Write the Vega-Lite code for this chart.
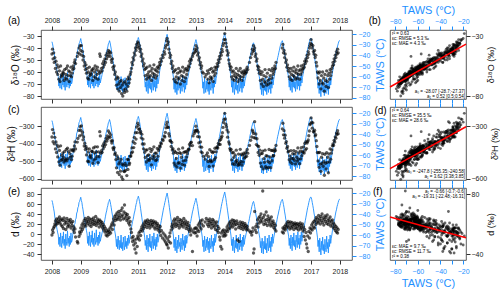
{
"$schema":"https://vega.github.io/schema/vega-lite/v6.json",
"padding":{"left":5,"top":3,"right":0,"bottom":0},
"config":{"font":"Liberation Sans","view":{"stroke":"#333","strokeWidth":0.8},
"axis":{"grid":false,"labelFontSize":7,"labelColor":"#222","tickColor":"#333","domain":false,"tickSize":4,"titleFontWeight":"normal","titleColor":"#111","titleFontSize":10}},
"datasets":{
"fit":[{"T":-84.5,"o":-72.5,"h":-541,"d":34},{"T":-17.5,"o":-36.8,"h":-304,"d":-7.5}],
"aws":[
{"t":2008.00,"T":-27,"o":-45,"h":-362,"d":-2},{"t":2008.02,"T":-29,"o":-41,"h":-320,"d":8},{"t":2008.04,"T":-32,"o":-49,"h":-389,"d":3},{"t":2008.06,"T":-35,"o":-44,"h":-340,"d":12},{"t":2008.08,"T":-38,"o":-52,"h":-401,"d":15},{"t":2008.10,"T":-43,"o":-48,"h":-364,"d":20},{"t":2008.12,"T":-46,"o":-57,"h":-430,"d":26},{"t":2008.14,"T":-49,"o":-51,"h":-390,"d":18},{"t":2008.16,"T":-52,"o":-60,"h":-450,"d":30},{"t":2008.18,"T":-55,"o":-54,"h":-408,"d":24},{"t":2008.20,"T":-58,"o":-62,"h":-475,"d":21},{"t":2008.22,"T":-60,"o":-56,"h":-418,"d":30},{"t":2008.24,"T":-69,"o":-66,"h":-503,"d":25},{"t":2008.26,"T":-62,"o":-59,"h":-438,"d":34},{"t":2008.28,"T":-71,"o":-68,"h":-522,"d":22},{"t":2008.30,"T":-58,"o":-55,"h":-412,"d":28},{"t":2008.32,"T":-67,"o":-64,"h":-494,"d":18},{"t":2008.34,"T":-72,"o":-62,"h":-466,"d":30},{"t":2008.36,"T":-61,"o":-63,"h":-489,"d":15},{"t":2008.38,"T":-68,"o":-60,"h":-453,"d":27},{"t":2008.40,"T":-57,"o":-61,"h":-477,"d":11},{"t":2008.42,"T":-70,"o":-67,"h":-504,"d":32},{"t":2008.44,"T":-64,"o":-58,"h":-444,"d":20},{"t":2008.46,"T":-73,"o":-65,"h":-494,"d":26},{"t":2008.48,"T":-59,"o":-62,"h":-487,"d":9},{"t":2008.50,"T":-66,"o":-57,"h":-433,"d":23},{"t":2008.52,"T":-70,"o":-66,"h":-497,"d":31},{"t":2008.54,"T":-56,"o":-55,"h":-426,"d":14},{"t":2008.56,"T":-68,"o":-63,"h":-485,"d":19},{"t":2008.58,"T":-63,"o":-59,"h":-445,"d":27},{"t":2008.60,"T":-71,"o":-68,"h":-528,"d":16},{"t":2008.62,"T":-61,"o":-60,"h":-456,"d":24},{"t":2008.64,"T":-69,"o":-63,"h":-475,"d":29},{"t":2008.66,"T":-58,"o":-56,"h":-436,"d":12},{"t":2008.68,"T":-67,"o":-64,"h":-490,"d":22},{"t":2008.70,"T":-65,"o":-61,"h":-471,"d":17},{"t":2008.72,"T":-60,"o":-58,"h":-439,"d":25},{"t":2008.74,"T":-57,"o":-55,"h":-432,"d":8},{"t":2008.76,"T":-55,"o":-57,"h":-442,"d":14},{"t":2008.78,"T":-50,"o":-52,"h":-413,"d":3},{"t":2008.80,"T":-49,"o":-50,"h":-390,"d":10},{"t":2008.82,"T":-45,"o":-53,"h":-430,"d":-6},{"t":2008.84,"T":-44},{"t":2008.86,"T":-39},{"t":2008.88,"T":-38,"o":-47,"h":-391,"d":-15},{"t":2008.90,"T":-34,"o":-44,"h":-370,"d":-18},{"t":2008.92,"T":-33},{"t":2008.94,"T":-29,"o":-40,"h":-325,"d":-5},{"t":2008.96,"T":-28,"o":-45,"h":-356,"d":4},{"t":2008.98,"T":-26,"o":-38,"h":-304,"d":0},
{"t":2009.00,"T":-24,"o":-42,"h":-324,"d":12},{"t":2009.02,"T":-27,"o":-38,"h":-299,"d":5},{"t":2009.04,"T":-29,"o":-46,"h":-350,"d":18},{"t":2009.06,"T":-33,"o":-43,"h":-335,"d":9},{"t":2009.08,"T":-36,"o":-50,"h":-378,"d":22},{"t":2009.10,"T":-40,"o":-47,"h":-362,"d":14},{"t":2009.12,"T":-44,"o":-55,"h":-413,"d":27},{"t":2009.14,"T":-46,"o":-52,"h":-397,"d":19},{"t":2009.16,"T":-50,"o":-58,"h":-433,"d":31},{"t":2009.18,"T":-53,"o":-54,"h":-416,"d":16},{"t":2009.20,"T":-56,"o":-61,"h":-464,"d":24},{"t":2009.22,"T":-59,"o":-57,"h":-428,"d":28},{"t":2009.24,"T":-68,"o":-65,"h":-499,"d":21},{"t":2009.26,"T":-61,"o":-60,"h":-447,"d":33},{"t":2009.28,"T":-70,"o":-66,"h":-502,"d":26},{"t":2009.30,"T":-57,"o":-56,"h":-430,"d":18},{"t":2009.32,"T":-66,"o":-63,"h":-474,"d":30},{"t":2009.34,"T":-71,"o":-61,"h":-465,"d":23},{"t":2009.36,"T":-60,"o":-62,"h":-481,"d":15},{"t":2009.38,"T":-67,"o":-59,"h":-443,"d":29},{"t":2009.40,"T":-56,"o":-58,"h":-444,"d":20},{"t":2009.42,"T":-69,"o":-67,"h":-511,"d":25},{"t":2009.44,"T":-63,"o":-57,"h":-424,"d":32},{"t":2009.46,"T":-71,"o":-64,"h":-493,"d":19},{"t":2009.48,"T":-58,"o":-60,"h":-453,"d":27},{"t":2009.50,"T":-65,"o":-55,"h":-418,"d":22},{"t":2009.52,"T":-69,"o":-65,"h":-485,"d":35},{"t":2009.54,"T":-55,"o":-58,"h":-447,"d":17},{"t":2009.56,"T":-67,"o":-62,"h":-472,"d":24},{"t":2009.58,"T":-62,"o":-56,"h":-418,"d":30},{"t":2009.60,"T":-70,"o":-66,"h":-507,"d":21},{"t":2009.62,"T":-60,"o":-59,"h":-446,"d":26},{"t":2009.64,"T":-68,"o":-61,"h":-474,"d":14},{"t":2009.66,"T":-57,"o":-45,"h":-332,"d":28},{"t":2009.68,"T":-66,"o":-47,"h":-356,"d":20},{"t":2009.70,"T":-63,"o":-60,"h":-455,"d":25},{"t":2009.72,"T":-61,"o":-57,"h":-440,"d":16},{"t":2009.74,"T":-58,"o":-59,"h":-449,"d":23},{"t":2009.76,"T":-56,"o":-53,"h":-412,"d":12},{"t":2009.78,"T":-53,"o":-56,"h":-429,"d":19},{"t":2009.80,"T":-50,"o":-51,"h":-400,"d":8},{"t":2009.82,"T":-48,"o":-54,"h":-417,"d":15},{"t":2009.84,"T":-45,"o":-49,"h":-388,"d":4},{"t":2009.86,"T":-42,"o":-52,"h":-405,"d":11},{"t":2009.88,"T":-39,"o":-46,"h":-370,"d":-2},{"t":2009.90,"T":-37,"o":-49,"h":-386,"d":6},{"t":2009.92,"T":-34,"o":-44,"h":-356,"d":-4},{"t":2009.94,"T":-32,"o":-47,"h":-373,"d":3},{"t":2009.96,"T":-29,"o":-42,"h":-328,"d":8},{"t":2009.98,"T":-28,"o":-45,"h":-361,"d":-1},
{"t":2010.00,"T":-26,"o":-43,"h":-339,"d":5},{"t":2010.02,"T":-28,"o":-47,"h":-364,"d":12},{"t":2010.04,"T":-31,"o":-44,"h":-350,"d":2},{"t":2010.06,"T":-34,"o":-50,"h":-384,"d":16},{"t":2010.08,"T":-38,"o":-52,"h":-396,"d":20},{"t":2010.10,"T":-41,"o":-49,"h":-383,"d":9},{"t":2010.12,"T":-45,"o":-56,"h":-424,"d":24},{"t":2010.14,"T":-49,"o":-58,"h":-434,"d":30},{"t":2010.16,"T":-52,"o":-55,"h":-422,"d":18},{"t":2010.18,"T":-56,"o":-62,"h":-461,"d":35},{"t":2010.20,"T":-59,"o":-60,"h":-453,"d":27},{"t":2010.22,"T":-63,"o":-66,"h":-490,"d":38},{"t":2010.24,"T":-71,"o":-71,"h":-537,"d":31},{"t":2010.26,"T":-64,"o":-64,"h":-470,"d":42},{"t":2010.28,"T":-73,"o":-74,"h":-563,"d":29},{"t":2010.30,"T":-61,"o":-65,"h":-484,"d":36},{"t":2010.32,"T":-70,"o":-70,"h":-515,"d":45},{"t":2010.34,"T":-74,"o":-76,"h":-575,"d":33},{"t":2010.36,"T":-65,"o":-68,"h":-504,"d":40},{"t":2010.38,"T":-72,"o":-73,"h":-556,"d":28},{"t":2010.40,"T":-60,"o":-67,"h":-489,"d":47},{"t":2010.42,"T":-73,"o":-78,"h":-589,"d":35},{"t":2010.44,"T":-67,"o":-71,"h":-516,"d":52},{"t":2010.46,"T":-75,"o":-80,"h":-602,"d":38},{"t":2010.48,"T":-62,"o":-69,"h":-522,"d":30},{"t":2010.50,"T":-70,"o":-75,"h":-556,"d":44},{"t":2010.52,"T":-74,"o":-77,"h":-558,"d":58},{"t":2010.54,"T":-61,"o":-68,"h":-512,"d":32},{"t":2010.56,"T":-71,"o":-74,"h":-551,"d":41},{"t":2010.58,"T":-66,"o":-70,"h":-524,"d":36},{"t":2010.60,"T":-73,"o":-76,"h":-581,"d":27},{"t":2010.62,"T":-63,"o":-66,"h":-489,"d":39},{"t":2010.64,"T":-70,"o":-72,"h":-546,"d":30},{"t":2010.66,"T":-60,"o":-64,"h":-490,"d":22},{"t":2010.68,"T":-68,"o":-69,"h":-519,"d":33},{"t":2010.70,"T":-64,"o":-66,"h":-510,"d":18},{"t":2010.72,"T":-61,"o":-62,"h":-471,"d":25},{"t":2010.74,"T":-56,"o":-60,"h":-470,"d":10},{"t":2010.76,"T":-53,"o":-57,"h":-453,"d":3},{"t":2010.78,"T":-50,"o":-52,"h":-424,"d":-8},{"t":2010.80,"T":-47,"o":-54,"h":-447,"d":-15},{"t":2010.82,"T":-45,"o":-48,"h":-389,"d":-5},{"t":2010.84,"T":-42,"o":-50,"h":-422,"d":-22},{"t":2010.86,"T":-39,"o":-44,"h":-364,"d":-12},{"t":2010.88,"T":-37,"o":-46,"h":-398,"d":-30},{"t":2010.90,"T":-34,"o":-40,"h":-338,"d":-18},{"t":2010.92,"T":-31,"o":-42,"h":-374,"d":-38},{"t":2010.94,"T":-29,"o":-37,"h":-306,"d":-10},{"t":2010.96,"T":-26,"o":-39,"h":-337,"d":-25},{"t":2010.98,"T":-25,"o":-35,"h":-284,"d":-4},
{"t":2011.00,"T":-23,"o":-36,"h":-296,"d":-8},{"t":2011.02,"T":-25,"o":-40,"h":-318,"d":2},{"t":2011.04,"T":-28,"o":-38,"h":-316,"d":-12},{"t":2011.06,"T":-31,"o":-43,"h":-339,"d":5},{"t":2011.08,"T":-35,"o":-41,"h":-331,"d":-3},{"t":2011.10,"T":-39,"o":-47,"h":-367,"d":9},{"t":2011.12,"T":-43,"o":-45,"h":-346,"d":14},{"t":2011.14,"T":-47,"o":-51,"h":-402,"d":6},{"t":2011.16,"T":-51,"o":-49,"h":-374,"d":18},{"t":2011.18,"T":-54,"o":-55,"h":-429,"d":11},{"t":2011.20,"T":-58,"o":-53,"h":-402,"d":22},{"t":2011.22,"T":-62,"o":-58,"h":-449,"d":15},{"t":2011.24,"T":-70,"o":-63,"h":-478,"d":26},{"t":2011.26,"T":-65,"o":-57,"h":-437,"d":19},{"t":2011.28,"T":-74,"o":-66,"h":-504,"d":24},{"t":2011.30,"T":-60,"o":-56,"h":-435,"d":13},{"t":2011.32,"T":-69,"o":-62,"h":-468,"d":28},{"t":2011.34,"T":-76,"o":-64,"h":-491,"d":21},{"t":2011.36,"T":-63,"o":-60,"h":-463,"d":17},{"t":2011.38,"T":-71,"o":-65,"h":-495,"d":25},{"t":2011.40,"T":-59,"o":-55,"h":-428,"d":12},{"t":2011.42,"T":-72,"o":-63,"h":-484,"d":20},{"t":2011.44,"T":-66,"o":-59,"h":-445,"d":27},{"t":2011.46,"T":-75,"o":-67,"h":-520,"d":16},{"t":2011.48,"T":-61,"o":-57,"h":-433,"d":23},{"t":2011.50,"T":-68,"o":-61,"h":-469,"d":19},{"t":2011.52,"T":-73,"o":-64,"h":-486,"d":26},{"t":2011.54,"T":-58,"o":-54,"h":-418,"d":14},{"t":2011.56,"T":-70,"o":-62,"h":-474,"d":22},{"t":2011.58,"T":-64,"o":-58,"h":-454,"d":10},{"t":2011.60,"T":-74,"o":-65,"h":-496,"d":24},{"t":2011.62,"T":-62,"o":-59,"h":-454,"d":18},{"t":2011.64,"T":-71,"o":-63,"h":-491,"d":13},{"t":2011.66,"T":-59,"o":-56,"h":-427,"d":21},{"t":2011.68,"T":-67,"o":-60,"h":-472,"d":8},{"t":2011.70,"T":-65,"o":-57,"h":-439,"d":17},{"t":2011.72,"T":-60,"o":-55,"h":-429,"d":11},{"t":2011.74,"T":-55,"o":-52,"h":-412,"d":4},{"t":2011.76,"T":-52,"o":-54,"h":-417,"d":15},{"t":2011.78,"T":-49,"o":-49,"h":-395,"d":-3},{"t":2011.80,"T":-46,"o":-51,"h":-401,"d":7},{"t":2011.82,"T":-43},{"t":2011.84,"T":-40,"o":-46,"h":-376,"d":-8},{"t":2011.86,"T":-37,"o":-48,"h":-382,"d":2},{"t":2011.88,"T":-34},{"t":2011.90,"T":-32,"o":-43,"h":-356,"d":-12},{"t":2011.92,"T":-29,"o":-45,"h":-362,"d":-2},{"t":2011.94,"T":-27,"o":-40,"h":-336,"d":-16},{"t":2011.96,"T":-24,"o":-38,"h":-310,"d":-6},{"t":2011.98,"T":-22,"o":-34,"h":-292,"d":-20},
{"t":2012.00,"T":-20,"o":-32,"h":-278,"d":-22},{"t":2012.02,"T":-23,"o":-37,"h":-306,"d":-10},{"t":2012.04,"T":-26,"o":-35,"h":-308,"d":-28},{"t":2012.06,"T":-30,"o":-41,"h":-343,"d":-15},{"t":2012.08,"T":-34,"o":-44,"h":-357,"d":-5},{"t":2012.10,"T":-38,"o":-48,"h":-382,"d":2},{"t":2012.12,"T":-42,"o":-46,"h":-386,"d":-18},{"t":2012.14,"T":-46,"o":-53,"h":-416,"d":8},{"t":2012.16,"T":-50,"o":-51,"h":-393,"d":15},{"t":2012.18,"T":-54,"o":-57,"h":-436,"d":20},{"t":2012.20,"T":-57,"o":-55,"h":-428,"d":12},{"t":2012.22,"T":-61,"o":-60,"h":-454,"d":26},{"t":2012.24,"T":-72,"o":-66,"h":-510,"d":18},{"t":2012.26,"T":-64,"o":-59,"h":-442,"d":30},{"t":2012.28,"T":-75,"o":-68,"h":-522,"d":22},{"t":2012.30,"T":-62,"o":-58,"h":-449,"d":15},{"t":2012.32,"T":-70,"o":-64,"h":-484,"d":28},{"t":2012.34,"T":-77,"o":-69,"h":-532,"d":20},{"t":2012.36,"T":-65,"o":-61,"h":-455,"d":33},{"t":2012.38,"T":-73,"o":-66,"h":-511,"d":17},{"t":2012.40,"T":-60,"o":-57,"h":-431,"d":25},{"t":2012.42,"T":-71,"o":-65,"h":-508,"d":12},{"t":2012.44,"T":-67,"o":-60,"h":-451,"d":29},{"t":2012.46,"T":-76,"o":-70,"h":-539,"d":21},{"t":2012.48,"T":-63,"o":-59,"h":-456,"d":16},{"t":2012.50,"T":-69,"o":-63,"h":-477,"d":27},{"t":2012.52,"T":-74,"o":-67,"h":-517,"d":19},{"t":2012.54,"T":-59,"o":-56,"h":-424,"d":24},{"t":2012.56,"T":-70,"o":-64,"h":-498,"d":14},{"t":2012.58,"T":-65,"o":-60,"h":-449,"d":31},{"t":2012.60,"T":-75,"o":-68,"h":-522,"d":22},{"t":2012.62,"T":-61,"o":-58,"h":-446,"d":18},{"t":2012.64,"T":-72,"o":-65,"h":-494,"d":26},{"t":2012.66,"T":-60,"o":-57,"h":-445,"d":11},{"t":2012.68,"T":-68,"o":-62,"h":-476,"d":20},{"t":2012.70,"T":-63,"o":-59,"h":-457,"d":15},{"t":2012.72,"T":-61,"o":-58,"h":-441,"d":23},{"t":2012.74,"T":-58,"o":-55,"h":-431,"d":9},{"t":2012.76,"T":-55,"o":-56,"h":-431,"d":17},{"t":2012.78,"T":-52,"o":-51,"h":-403,"d":5},{"t":2012.80,"T":-49,"o":-53,"h":-412,"d":12},{"t":2012.82,"T":-47,"o":-49,"h":-394,"d":-2},{"t":2012.84,"T":-44,"o":-50,"h":-392,"d":8},{"t":2012.86,"T":-41},{"t":2012.88,"T":-38,"o":-47,"h":-411,"d":-35},{"t":2012.90,"T":-36,"o":-45,"h":-356,"d":4},{"t":2012.92,"T":-33},{"t":2012.94,"T":-31,"o":-44,"h":-342,"d":10},{"t":2012.96,"T":-29,"o":-41,"h":-326,"d":2},{"t":2012.98,"T":-27,"o":-43,"h":-332,"d":12},
{"t":2013.00,"T":-25,"o":-38,"h":-301,"d":3},{"t":2013.02,"T":-27,"o":-42,"h":-324,"d":12},{"t":2013.04,"T":-30,"o":-40,"h":-324,"d":-4},{"t":2013.06,"T":-33,"o":-46,"h":-360,"d":8},{"t":2013.08,"T":-37,"o":-44,"h":-334,"d":18},{"t":2013.10,"T":-41,"o":-50,"h":-395,"d":5},{"t":2013.12,"T":-44,"o":-48,"h":-362,"d":22},{"t":2013.14,"T":-48,"o":-54,"h":-418,"d":14},{"t":2013.16,"T":-51,"o":-52,"h":-390,"d":26},{"t":2013.18,"T":-55,"o":-57,"h":-446,"d":10},{"t":2013.20,"T":-58,"o":-55,"h":-420,"d":20},{"t":2013.22,"T":-62,"o":-60,"h":-452,"d":28},{"t":2013.24,"T":-71},{"t":2013.26,"T":-65,"o":-61,"h":-472,"d":16},{"t":2013.28,"T":-76},{"t":2013.30,"T":-61},{"t":2013.32,"T":-70,"o":-64,"h":-488,"d":24},{"t":2013.34,"T":-75},{"t":2013.36,"T":-64,"o":-62,"h":-465,"d":31},{"t":2013.38,"T":-72},{"t":2013.40,"T":-62,"o":-59,"h":-453,"d":19},{"t":2013.42,"T":-74,"o":-66,"h":-501,"d":27},{"t":2013.44,"T":-66,"o":-61,"h":-473,"d":15},{"t":2013.46,"T":-77,"o":-69,"h":-529,"d":23},{"t":2013.48,"T":-63,"o":-58,"h":-434,"d":30},{"t":2013.50,"T":-70,"o":-64,"h":-494,"d":18},{"t":2013.52,"T":-73,"o":-66,"h":-503,"d":25},{"t":2013.54,"T":-60,"o":-57,"h":-444,"d":12},{"t":2013.56,"T":-71,"o":-65,"h":-499,"d":21},{"t":2013.58,"T":-66,"o":-60,"h":-451,"d":29},{"t":2013.60,"T":-76,"o":-68,"h":-527,"d":17},{"t":2013.62,"T":-63,"o":-59,"h":-446,"d":26},{"t":2013.64,"T":-70,"o":-63,"h":-490,"d":14},{"t":2013.66,"T":-59,"o":-56,"h":-426,"d":22},{"t":2013.68,"T":-67,"o":-61,"h":-479,"d":9},{"t":2013.70,"T":-62,"o":-58,"h":-446,"d":18},{"t":2013.72,"T":-59,"o":-56,"h":-424,"d":24},{"t":2013.74,"T":-55,"o":-53,"h":-417,"d":7},{"t":2013.76,"T":-51,"o":-55,"h":-425,"d":15},{"t":2013.78,"T":-48,"o":-50,"h":-397,"d":3},{"t":2013.80,"T":-45,"o":-52,"h":-405,"d":11},{"t":2013.82,"T":-42,"o":-47,"h":-382,"d":-6},{"t":2013.84,"T":-39,"o":-49,"h":-404,"d":-12},{"t":2013.86,"T":-36,"o":-44,"h":-377,"d":-25},{"t":2013.88,"T":-33,"o":-46,"h":-366,"d":2},{"t":2013.90,"T":-30,"o":-41,"h":-358,"d":-30},{"t":2013.92,"T":-28,"o":-43,"h":-338,"d":6},{"t":2013.94,"T":-25,"o":-38,"h":-308,"d":-4},{"t":2013.96,"T":-23,"o":-36,"h":-280,"d":8},{"t":2013.98,"T":-21,"o":-33,"h":-263,"d":1},
{"t":2014.00,"T":-19,"o":-28,"h":-228,"d":-4},{"t":2014.02,"T":-22,"o":-33,"h":-260,"d":4},{"t":2014.04,"T":-25,"o":-36,"h":-290,"d":-2},{"t":2014.06,"T":-29,"o":-39,"h":-304,"d":8},{"t":2014.08,"T":-33,"o":-42,"h":-322,"d":14},{"t":2014.10,"T":-37,"o":-46,"h":-363,"d":5},{"t":2014.12,"T":-41,"o":-44,"h":-334,"d":18},{"t":2014.14,"T":-45,"o":-50,"h":-390,"d":10},{"t":2014.16,"T":-49,"o":-53,"h":-402,"d":22},{"t":2014.18,"T":-53,"o":-55,"h":-428,"d":12},{"t":2014.20,"T":-57,"o":-58,"h":-439,"d":25},{"t":2014.22,"T":-61,"o":-56,"h":-432,"d":16},{"t":2014.24,"T":-70,"o":-64,"h":-492,"d":20},{"t":2014.26,"T":-64,"o":-60,"h":-452,"d":28},{"t":2014.28,"T":-75,"o":-66,"h":-514,"d":14},{"t":2014.30,"T":-62,"o":-59,"h":-450,"d":22},{"t":2014.32,"T":-71,"o":-63,"h":-477,"d":27},{"t":2014.34,"T":-77,"o":-67,"h":-518,"d":18},{"t":2014.36,"T":-65,"o":-61,"h":-464,"d":24},{"t":2014.38,"T":-72,"o":-64,"h":-502,"d":10},{"t":2014.40,"T":-60,"o":-57,"h":-437,"d":19},{"t":2014.42,"T":-73,"o":-65,"h":-494,"d":26},{"t":2014.44,"T":-68,"o":-62,"h":-508,"d":-12},{"t":2014.46,"T":-76,"o":-68,"h":-523,"d":21},{"t":2014.48,"T":-62,"o":-59,"h":-459,"d":13},{"t":2014.50,"T":-70,"o":-63,"h":-519,"d":-15},{"t":2014.52,"T":-74,"o":-66,"h":-511,"d":17},{"t":2014.54,"T":-59,"o":-57,"h":-432,"d":24},{"t":2014.56,"T":-71,"o":-64,"h":-501,"d":11},{"t":2014.58,"T":-65,"o":-60,"h":-460,"d":20},{"t":2014.60,"T":-75,"o":-67,"h":-521,"d":15},{"t":2014.62,"T":-62,"o":-61,"h":-465,"d":23},{"t":2014.64,"T":-71,"o":-64,"h":-503,"d":9},{"t":2014.66,"T":-60,"o":-59,"h":-454,"d":18},{"t":2014.68,"T":-69,"o":-62,"h":-482,"d":14},{"t":2014.70,"T":-64,"o":-60,"h":-459,"d":21},{"t":2014.72,"T":-62,"o":-61,"h":-476,"d":12},{"t":2014.74,"T":-59,"o":-58,"h":-447,"d":17},{"t":2014.76,"T":-57,"o":-60,"h":-472,"d":8},{"t":2014.78,"T":-54,"o":-56,"h":-433,"d":15},{"t":2014.80,"T":-52,"o":-58,"h":-454,"d":10},{"t":2014.82,"T":-49},{"t":2014.84,"T":-47},{"t":2014.86,"T":-44,"o":-52,"h":-410,"d":6},{"t":2014.88,"T":-41},{"t":2014.90,"T":-39,"o":-48,"h":-381,"d":3},{"t":2014.92,"T":-36},{"t":2014.94,"T":-33,"o":-45,"h":-362,"d":-2},{"t":2014.96,"T":-31,"o":-41,"h":-323,"d":5},{"t":2014.98,"T":-29,"o":-43,"h":-332,"d":12},
{"t":2015.00,"T":-28,"o":-38,"h":-342,"d":-38},{"t":2015.02,"T":-30,"o":-42,"h":-366,"d":-30},{"t":2015.04,"T":-33,"o":-40,"h":-275,"d":45},{"t":2015.06,"T":-36,"o":-47,"h":-368,"d":8},{"t":2015.08,"T":-40,"o":-45,"h":-345,"d":15},{"t":2015.10,"T":-43,"o":-51,"h":-405,"d":3},{"t":2015.12,"T":-47,"o":-49,"h":-372,"d":20},{"t":2015.14,"T":-50,"o":-55,"h":-412,"d":28},{"t":2015.16,"T":-54,"o":-58,"h":-450,"d":14},{"t":2015.18,"T":-57,"o":-56,"h":-416,"d":32},{"t":2015.20,"T":-60,"o":-61,"h":-466,"d":22},{"t":2015.22,"T":-63,"o":-59,"h":-437,"d":35},{"t":2015.24,"T":-72,"o":-67,"h":-510,"d":26},{"t":2015.26,"T":-66,"o":-62,"h":-456,"d":40},{"t":2015.28,"T":-77,"o":-70,"h":-530,"d":30},{"t":2015.30,"T":-63,"o":-60,"h":-456,"d":24},{"t":2015.32,"T":-71,"o":-66,"h":-442,"d":86},{"t":2015.34,"T":-78,"o":-72,"h":-543,"d":33},{"t":2015.36,"T":-66,"o":-63,"h":-485,"d":19},{"t":2015.38,"T":-73,"o":-68,"h":-506,"d":38},{"t":2015.40,"T":-61,"o":-58,"h":-437,"d":27},{"t":2015.42,"T":-74,"o":-69,"h":-531,"d":21},{"t":2015.44,"T":-68,"o":-64,"h":-468,"d":44},{"t":2015.46,"T":-77,"o":-71,"h":-539,"d":29},{"t":2015.48,"T":-63,"o":-61,"h":-471,"d":17},{"t":2015.50,"T":-71,"o":-67,"h":-500,"d":36},{"t":2015.52,"T":-75,"o":-70,"h":-535,"d":25},{"t":2015.54,"T":-60,"o":-58,"h":-433,"d":31},{"t":2015.56,"T":-72,"o":-66,"h":-508,"d":20},{"t":2015.58,"T":-66,"o":-63,"h":-476,"d":28},{"t":2015.60,"T":-76,"o":-69,"h":-536,"d":16},{"t":2015.62,"T":-62,"o":-59,"h":-438,"d":34},{"t":2015.64,"T":-71,"o":-65,"h":-497,"d":23},{"t":2015.66,"T":-59,"o":-57,"h":-438,"d":18},{"t":2015.68,"T":-68,"o":-62,"h":-470,"d":26},{"t":2015.70,"T":-63,"o":-60,"h":-467,"d":13},{"t":2015.72,"T":-60,"o":-58,"h":-443,"d":21},{"t":2015.74,"T":-57,"o":-55,"h":-430,"d":10},{"t":2015.76,"T":-54,"o":-57,"h":-439,"d":17},{"t":2015.78,"T":-51,"o":-52,"h":-410,"d":6},{"t":2015.80,"T":-48},{"t":2015.82,"T":-45},{"t":2015.84,"T":-42},{"t":2015.86,"T":-40},{"t":2015.88,"T":-37},{"t":2015.90,"T":-35},{"t":2015.92,"T":-32},{"t":2015.94,"T":-30},{"t":2015.96,"T":-28},{"t":2015.98,"T":-27},
{"t":2016.00,"T":-26,"o":-40,"h":-316,"d":4},{"t":2016.02,"T":-28,"o":-37,"h":-284,"d":12},{"t":2016.04,"T":-31,"o":-44,"h":-350,"d":2},{"t":2016.06,"T":-34,"o":-42,"h":-326,"d":10},{"t":2016.08,"T":-38,"o":-48,"h":-369,"d":15},{"t":2016.10,"T":-41,"o":-45,"h":-352,"d":8},{"t":2016.12,"T":-45,"o":-52,"h":-398,"d":18},{"t":2016.14,"T":-48,"o":-50,"h":-388,"d":12},{"t":2016.16,"T":-52,"o":-56,"h":-426,"d":22},{"t":2016.18,"T":-55,"o":-54,"h":-416,"d":16},{"t":2016.20,"T":-58,"o":-59,"h":-447,"d":25},{"t":2016.22,"T":-61,"o":-57,"h":-442,"d":14},{"t":2016.24,"T":-70,"o":-64,"h":-491,"d":21},{"t":2016.26,"T":-63,"o":-60,"h":-470,"d":10},{"t":2016.28,"T":-73,"o":-66,"h":-504,"d":24},{"t":2016.30,"T":-60,"o":-57,"h":-439,"d":17},{"t":2016.32,"T":-68,"o":-62,"h":-484,"d":12},{"t":2016.34,"T":-75,"o":-67,"h":-513,"d":23},{"t":2016.36,"T":-62,"o":-59,"h":-457,"d":15},{"t":2016.38,"T":-70,"o":-63,"h":-484,"d":20},{"t":2016.40,"T":-58,"o":-56,"h":-439,"d":9},{"t":2016.42,"T":-71,"o":-64,"h":-494,"d":18},{"t":2016.44,"T":-65,"o":-60,"h":-458,"d":22},{"t":2016.46,"T":-74,"o":-66,"h":-515,"d":13},{"t":2016.48,"T":-60,"o":-58,"h":-445,"d":19},{"t":2016.50,"T":-67,"o":-61,"h":-477,"d":11},{"t":2016.52,"T":-72,"o":-65,"h":-499,"d":21},{"t":2016.54,"T":-57,"o":-55,"h":-424,"d":16},{"t":2016.56,"T":-69,"o":-62,"h":-488,"d":8},{"t":2016.58,"T":-63,"o":-59,"h":-453,"d":19},{"t":2016.60,"T":-73,"o":-66,"h":-514,"d":14},{"t":2016.62,"T":-60,"o":-58,"h":-442,"d":22},{"t":2016.64,"T":-69,"o":-62,"h":-486,"d":10},{"t":2016.66,"T":-57,"o":-55,"h":-423,"d":17},{"t":2016.68,"T":-66,"o":-60,"h":-468,"d":12},{"t":2016.70,"T":-61,"o":-58,"h":-444,"d":20},{"t":2016.72,"T":-58,"o":-57,"h":-450,"d":6},{"t":2016.74,"T":-55,"o":-54,"h":-418,"d":14},{"t":2016.76,"T":-52,"o":-56,"h":-453,"d":-5},{"t":2016.78,"T":-49,"o":-51,"h":-399,"d":9},{"t":2016.80,"T":-46,"o":-53,"h":-436,"d":-12},{"t":2016.82,"T":-43,"o":-49,"h":-389,"d":3},{"t":2016.84,"T":-40,"o":-51,"h":-428,"d":-20},{"t":2016.86,"T":-37,"o":-46,"h":-396,"d":-28},{"t":2016.88,"T":-34,"o":-48,"h":-388,"d":-4},{"t":2016.90,"T":-32,"o":-43,"h":-379,"d":-35},{"t":2016.92,"T":-29,"o":-45,"h":-355,"d":5},{"t":2016.94,"T":-27,"o":-40,"h":-328,"d":-8},{"t":2016.96,"T":-25,"o":-38,"h":-292,"d":12},{"t":2016.98,"T":-24,"o":-36,"h":-286,"d":2},
{"t":2017.00,"T":-24,"o":-33,"h":-254,"d":10},{"t":2017.02,"T":-26,"o":-37,"h":-278,"d":18},{"t":2017.04,"T":-29,"o":-40,"h":-312,"d":8},{"t":2017.06,"T":-32,"o":-38,"h":-282,"d":22},{"t":2017.08,"T":-35,"o":-43,"h":-330,"d":14},{"t":2017.10,"T":-39,"o":-45,"h":-335,"d":25},{"t":2017.12,"T":-42,"o":-42,"h":-324,"d":12},{"t":2017.14,"T":-46,"o":-48,"h":-356,"d":28},{"t":2017.16,"T":-50,"o":-46,"h":-349,"d":19},{"t":2017.18,"T":-54,"o":-52,"h":-383,"d":33},{"t":2017.20,"T":-58,"o":-55,"h":-416,"d":24},{"t":2017.22,"T":-62,"o":-60,"h":-450,"d":30},{"t":2017.24,"T":-71,"o":-65,"h":-498,"d":22},{"t":2017.26,"T":-65,"o":-61,"h":-451,"d":37},{"t":2017.28,"T":-76,"o":-70,"h":-534,"d":26},{"t":2017.30,"T":-63,"o":-60,"h":-449,"d":31},{"t":2017.32,"T":-72,"o":-67,"h":-516,"d":20},{"t":2017.34,"T":-79,"o":-74,"h":-557,"d":35},{"t":2017.36,"T":-66,"o":-63,"h":-477,"d":27},{"t":2017.38,"T":-74,"o":-69,"h":-512,"d":40},{"t":2017.40,"T":-62,"o":-60,"h":-457,"d":23},{"t":2017.42,"T":-75,"o":-70,"h":-528,"d":32},{"t":2017.44,"T":-69,"o":-65,"h":-502,"d":18},{"t":2017.46,"T":-78,"o":-76,"h":-579,"d":29},{"t":2017.48,"T":-64,"o":-62,"h":-460,"d":36},{"t":2017.50,"T":-72,"o":-67,"h":-511,"d":25},{"t":2017.52,"T":-76,"o":-72,"h":-543,"d":33},{"t":2017.54,"T":-61,"o":-59,"h":-451,"d":21},{"t":2017.56,"T":-73,"o":-68,"h":-506,"d":38},{"t":2017.58,"T":-67,"o":-63,"h":-477,"d":27},{"t":2017.60,"T":-77,"o":-73,"h":-565,"d":19},{"t":2017.62,"T":-64,"o":-61,"h":-458,"d":30},{"t":2017.64,"T":-71,"o":-66,"h":-504,"d":24},{"t":2017.66,"T":-60,"o":-58,"h":-430,"d":34},{"t":2017.68,"T":-68,"o":-63,"h":-488,"d":16},{"t":2017.70,"T":-63,"o":-60,"h":-454,"d":26},{"t":2017.72,"T":-60,"o":-57,"h":-436,"d":20},{"t":2017.74,"T":-56,"o":-55,"h":-412,"d":28},{"t":2017.76,"T":-53,"o":-52,"h":-402,"d":14},{"t":2017.78,"T":-50,"o":-54,"h":-410,"d":22},{"t":2017.80,"T":-47,"o":-49,"h":-381,"d":11},{"t":2017.82,"T":-44,"o":-51,"h":-390,"d":18},{"t":2017.84,"T":-41,"o":-46,"h":-361,"d":7},{"t":2017.86,"T":-38,"o":-48,"h":-369,"d":15},{"t":2017.88,"T":-36,"o":-43,"h":-340,"d":4},{"t":2017.90,"T":-33,"o":-45,"h":-348,"d":12},{"t":2017.92,"T":-31,"o":-41,"h":-326,"d":2},{"t":2017.94,"T":-29,"o":-44,"h":-343,"d":9},{"t":2017.96,"T":-27},{"t":2017.98,"T":-26},{"t":2018.00,"T":-26}
]},
"concat":[
{"width":311,"height":69,"resolve":{"scale":{"y":"independent"},"axis":{"x":"independent","y":"independent"}},
"layer":[
{"data":{"name":"aws"},"mark":{"type":"line","color":"#1E90FF","strokeWidth":0.9},
"encoding":{"x":{"field":"t","type":"quantitative","scale":{"domain":[2007.62,2018.42],"nice":false,"zero":false},"axis":{"orient":"top","values":[2008,2009,2010,2011,2012,2013,2014,2015,2016,2017,2018],"format":"d","title":null,"labelPadding":3}},
"y":{"field":"T","type":"quantitative","scale":{"domain":[-81.2,-15.9],"nice":false,"zero":false},"axis":{"orient":"right","values":[-80,-70,-60,-50,-40,-30,-20],"title":"TAWS (°C)","titleAngle":270,"titleBaseline":"top","titleColor":"#1E90FF","labelColor":"#1E90FF","tickColor":"#1E90FF","labelPadding":2,"titlePadding":5,"titleFontSize":11}}}},
{"data":{"name":"aws"},"transform":[{"filter":{"field":"o","valid":true}}],"mark":{"type":"point","filled":true,"color":"#000","opacity":0.65,"size":11},
"encoding":{"x":{"field":"t","type":"quantitative","scale":{"domain":[2007.62,2018.42],"nice":false,"zero":false},"axis":{"orient":"bottom","values":[2008,2009,2010,2011,2012,2013,2014,2015,2016,2017,2018],"labels":false,"title":null}},
"y":{"field":"o","type":"quantitative","scale":{"domain":[-82.5,-25],"nice":false,"zero":false},"axis":{"orient":"left","values":[-80,-70,-60,-50,-40,-30],"title":"δ¹⁸O (‰)","labelPadding":3,"titlePadding":2}}}},
{"data":{"values":[{}]},"mark":{"type":"text","align":"left","baseline":"middle","fontSize":10,"text":"(a)"},
"encoding":{"x":{"datum":2006.47,"type":"quantitative","scale":{"domain":[2007.62,2018.42],"nice":false,"zero":false},"axis":null},"y":{"datum":-17.5,"type":"quantitative","scale":{"domain":[-82.5,-25],"nice":false,"zero":false},"axis":null}}},
{"data":{"values":[{}]},"mark":{"type":"text","align":"left","baseline":"middle","fontSize":10,"text":"(b)"},
"encoding":{"x":{"datum":2019.0,"type":"quantitative","scale":{"domain":[2007.62,2018.42],"nice":false,"zero":false},"axis":null},"y":{"datum":-17.5,"type":"quantitative","scale":{"domain":[-82.5,-25],"nice":false,"zero":false},"axis":null}}}
]},
{"width":76,"height":69,"resolve":{"axis":{"x":"independent"}},
"layer":[
{"data":{"name":"aws"},"transform":[{"filter":{"field":"o","valid":true}}],"mark":{"type":"point","filled":true,"color":"#000","opacity":0.6,"size":8},
"encoding":{"x":{"field":"T","type":"quantitative","scale":{"domain":[-84.5,-17.5],"nice":false,"zero":false},"axis":{"orient":"top","values":[-80,-70,-60,-50,-40,-30,-20],"labelExpr":"datum.value % 20 == 0 ? datum.label : ''","title":"TAWS (°C)","titleColor":"#1E90FF","labelColor":"#1E90FF","tickColor":"#1E90FF","labelPadding":2,"titlePadding":2,"titleFontSize":11}},
"y":{"field":"o","type":"quantitative","scale":{"domain":[-82.5,-25],"nice":false,"zero":false},"axis":{"orient":"right","values":[-80,-70,-60,-50,-40,-30],"title":"δ¹⁸O (‰)","titleAngle":270,"titleBaseline":"top","titleFontSize":9,"labelPadding":1,"titlePadding":4}}}},
{"data":{"name":"fit"},"mark":{"type":"line","color":"#FF0000","strokeWidth":1.5},
"encoding":{"x":{"field":"T","type":"quantitative","scale":{"domain":[-84.5,-17.5],"nice":false,"zero":false},"axis":{"orient":"bottom","values":[-80,-70,-60,-50,-40,-30,-20],"labels":false,"title":null,"tickColor":"#1E90FF"}},
"y":{"field":"o","type":"quantitative","scale":{"domain":[-82.5,-25],"nice":false,"zero":false}}}},
{"data":{"values":[{}]},"mark":{"type":"text","align":"left","baseline":"top","fontSize":4.5,"lineHeight":5,"text":["r² = 0.63","εc: RMSE = 5.3 ‰","εc: MAE = 4.3 ‰"]},
"encoding":{"x":{"datum":-82.7,"type":"quantitative","axis":null},"y":{"datum":-25.8,"type":"quantitative"}}},
{"data":{"values":[{}]},"mark":{"type":"text","align":"right","baseline":"top","fontSize":4.5,"lineHeight":5,"text":["a₀ = -28.07 [-28.7;-27.37]","a₁ = 0.52 [0.5;0.54]"]},
"encoding":{"x":{"datum":-18.4,"type":"quantitative","axis":null},"y":{"datum":-74.2,"type":"quantitative"}}}
]},
{"width":311,"height":73,"resolve":{"scale":{"y":"independent"},"axis":{"x":"independent","y":"independent"}},
"layer":[
{"data":{"name":"aws"},"mark":{"type":"line","color":"#1E90FF","strokeWidth":0.9},
"encoding":{"x":{"field":"t","type":"quantitative","scale":{"domain":[2007.62,2018.42],"nice":false,"zero":false},"axis":{"orient":"bottom","values":[2008,2009,2010,2011,2012,2013,2014,2015,2016,2017,2018],"labels":false,"title":null}},
"y":{"field":"T","type":"quantitative","scale":{"domain":[-83.8,-14],"nice":false,"zero":false},"axis":{"orient":"right","values":[-80,-70,-60,-50,-40,-30,-20],"title":"TAWS (°C)","titleAngle":270,"titleBaseline":"top","titleColor":"#1E90FF","labelColor":"#1E90FF","tickColor":"#1E90FF","labelPadding":2,"titlePadding":5,"titleFontSize":11}}}},
{"data":{"name":"aws"},"transform":[{"filter":{"field":"h","valid":true}}],"mark":{"type":"point","filled":true,"color":"#000","opacity":0.65,"size":11},
"encoding":{"x":{"field":"t","type":"quantitative","scale":{"domain":[2007.62,2018.42],"nice":false,"zero":false},"axis":null},
"y":{"field":"h","type":"quantitative","scale":{"domain":[-606,-192],"nice":false,"zero":false},"axis":{"orient":"left","values":[-600,-500,-400,-300],"title":"δ²H (‰)","labelPadding":3,"titlePadding":2}}}},
{"data":{"values":[{}]},"mark":{"type":"text","align":"left","baseline":"middle","fontSize":10,"text":"(c)"},
"encoding":{"x":{"datum":2006.47,"type":"quantitative","scale":{"domain":[2007.62,2018.42],"nice":false,"zero":false},"axis":null},"y":{"datum":-209,"type":"quantitative","scale":{"domain":[-606,-192],"nice":false,"zero":false},"axis":null}}},
{"data":{"values":[{}]},"mark":{"type":"text","align":"left","baseline":"middle","fontSize":10,"text":"(d)"},
"encoding":{"x":{"datum":2019.2,"type":"quantitative","scale":{"domain":[2007.62,2018.42],"nice":false,"zero":false},"axis":null},"y":{"datum":-214.7,"type":"quantitative","scale":{"domain":[-606,-192],"nice":false,"zero":false},"axis":null}}}
]},
{"width":76,"height":73,"resolve":{"axis":{"x":"independent"}},
"layer":[
{"data":{"name":"aws"},"transform":[{"filter":{"field":"h","valid":true}}],"mark":{"type":"point","filled":true,"color":"#000","opacity":0.6,"size":8},
"encoding":{"x":{"field":"T","type":"quantitative","scale":{"domain":[-84.5,-17.5],"nice":false,"zero":false},"axis":{"orient":"top","values":[-80,-70,-60,-50,-40,-30,-20],"labels":false,"title":null,"tickColor":"#1E90FF"}},
"y":{"field":"h","type":"quantitative","scale":{"domain":[-606,-192],"nice":false,"zero":false},"axis":{"orient":"right","values":[-600,-500,-400,-300],"title":"δ²H (‰)","titleAngle":270,"titleBaseline":"top","titleFontSize":9,"labelPadding":1,"titlePadding":4}}}},
{"data":{"name":"fit"},"mark":{"type":"line","color":"#FF0000","strokeWidth":1.5},
"encoding":{"x":{"field":"T","type":"quantitative","scale":{"domain":[-84.5,-17.5],"nice":false,"zero":false},"axis":{"orient":"bottom","values":[-80,-70,-60,-50,-40,-30,-20],"labels":false,"title":null,"tickColor":"#1E90FF"}},
"y":{"field":"h","type":"quantitative","scale":{"domain":[-606,-192],"nice":false,"zero":false}}}},
{"data":{"values":[{}]},"mark":{"type":"text","align":"left","baseline":"top","fontSize":4.5,"lineHeight":5,"text":["r² = 0.64","εc: RMSE = 35.5 ‰","εc: MAE = 28.6 ‰"]},
"encoding":{"x":{"datum":-82.7,"type":"quantitative","axis":null},"y":{"datum":-197.7,"type":"quantitative"}}},
{"data":{"values":[{}]},"mark":{"type":"text","align":"right","baseline":"top","fontSize":4.5,"lineHeight":5,"text":["a₀ = -247.8 [-255.35;-240.58]","a₁ = 3.62 [3.38;3.85]"]},
"encoding":{"x":{"datum":-18.4,"type":"quantitative","axis":null},"y":{"datum":-543.7,"type":"quantitative"}}}
]},
{"width":311,"height":72,"resolve":{"scale":{"y":"independent"},"axis":{"x":"independent","y":"independent"}},
"layer":[
{"data":{"name":"aws"},"mark":{"type":"line","color":"#1E90FF","strokeWidth":0.9},
"encoding":{"x":{"field":"t","type":"quantitative","scale":{"domain":[2007.62,2018.42],"nice":false,"zero":false},"axis":{"orient":"bottom","values":[2008,2009,2010,2011,2012,2013,2014,2015,2016,2017,2018],"format":"d","title":null,"labelPadding":3}},
"y":{"field":"T","type":"quantitative","scale":{"domain":[-83.8,-15.2],"nice":false,"zero":false},"axis":{"orient":"right","values":[-80,-70,-60,-50,-40,-30,-20],"title":"TAWS (°C)","titleAngle":270,"titleBaseline":"top","titleColor":"#1E90FF","labelColor":"#1E90FF","tickColor":"#1E90FF","labelPadding":2,"titlePadding":5,"titleFontSize":11}}}},
{"data":{"name":"aws"},"transform":[{"filter":{"field":"d","valid":true}}],"mark":{"type":"point","filled":true,"color":"#000","opacity":0.65,"size":11},
"encoding":{"x":{"field":"t","type":"quantitative","scale":{"domain":[2007.62,2018.42],"nice":false,"zero":false},"axis":null},
"y":{"field":"d","type":"quantitative","scale":{"domain":[-52,92],"nice":false,"zero":false},"axis":{"orient":"left","values":[-40,-20,0,20,40,60,80],"title":"d (‰)","labelPadding":3,"titlePadding":2}}}},
{"data":{"values":[{}]},"mark":{"type":"text","align":"left","baseline":"middle","fontSize":10,"text":"(e)"},
"encoding":{"x":{"datum":2006.47,"type":"quantitative","scale":{"domain":[2007.62,2018.42],"nice":false,"zero":false},"axis":null},"y":{"datum":84,"type":"quantitative","scale":{"domain":[-52,92],"nice":false,"zero":false},"axis":null}}},
{"data":{"values":[{}]},"mark":{"type":"text","align":"left","baseline":"middle","fontSize":10,"text":"(f)"},
"encoding":{"x":{"datum":2019.15,"type":"quantitative","scale":{"domain":[2007.62,2018.42],"nice":false,"zero":false},"axis":null},"y":{"datum":84,"type":"quantitative","scale":{"domain":[-52,92],"nice":false,"zero":false},"axis":null}}}
]},
{"width":76,"height":72,"resolve":{"axis":{"x":"independent"}},
"layer":[
{"data":{"name":"aws"},"transform":[{"filter":{"field":"d","valid":true}}],"mark":{"type":"point","filled":true,"color":"#000","opacity":0.6,"size":8},
"encoding":{"x":{"field":"T","type":"quantitative","scale":{"domain":[-84.5,-17.5],"nice":false,"zero":false},"axis":{"orient":"top","values":[-80,-70,-60,-50,-40,-30,-20],"labels":false,"title":null,"tickColor":"#1E90FF"}},
"y":{"field":"d","type":"quantitative","scale":{"domain":[-52,92],"nice":false,"zero":false},"axis":{"orient":"right","values":[-40,-20,0,20,40,60,80],"title":"d (‰)","titleAngle":270,"titleBaseline":"top","titleFontSize":9,"labelPadding":1,"titlePadding":4}}}},
{"data":{"name":"fit"},"mark":{"type":"line","color":"#FF0000","strokeWidth":1.5},
"encoding":{"x":{"field":"T","type":"quantitative","scale":{"domain":[-84.5,-17.5],"nice":false,"zero":false},"axis":{"orient":"bottom","values":[-80,-70,-60,-50,-40,-30,-20],"labelExpr":"datum.value % 20 == 0 ? datum.label : ''","title":"TAWS (°C)","titleColor":"#1E90FF","labelColor":"#1E90FF","tickColor":"#1E90FF","labelPadding":3,"titlePadding":3,"titleFontSize":11}},
"y":{"field":"d","type":"quantitative","scale":{"domain":[-52,92],"nice":false,"zero":false}}}},
{"data":{"values":[{}]},"mark":{"type":"text","align":"right","baseline":"top","fontSize":4.5,"lineHeight":5,"text":["a₁ = -0.66 [-0.7;-0.6]","a₀ = -19.31 [-22.48;-16.31]"]},
"encoding":{"x":{"datum":-18.4,"type":"quantitative","axis":null},"y":{"datum":90,"type":"quantitative"}}},
{"data":{"values":[{}]},"mark":{"type":"text","align":"left","baseline":"top","fontSize":4.5,"lineHeight":5,"text":["εc: MAE = 9.7 ‰","εc: RMSE = 11.7 ‰","r² = 0.38"]},
"encoding":{"x":{"datum":-82.7,"type":"quantitative","axis":null},"y":{"datum":-20,"type":"quantitative"}}}
]}
],
"columns":2,"bounds":"flush","spacing":{"row":8,"column":38}
}
